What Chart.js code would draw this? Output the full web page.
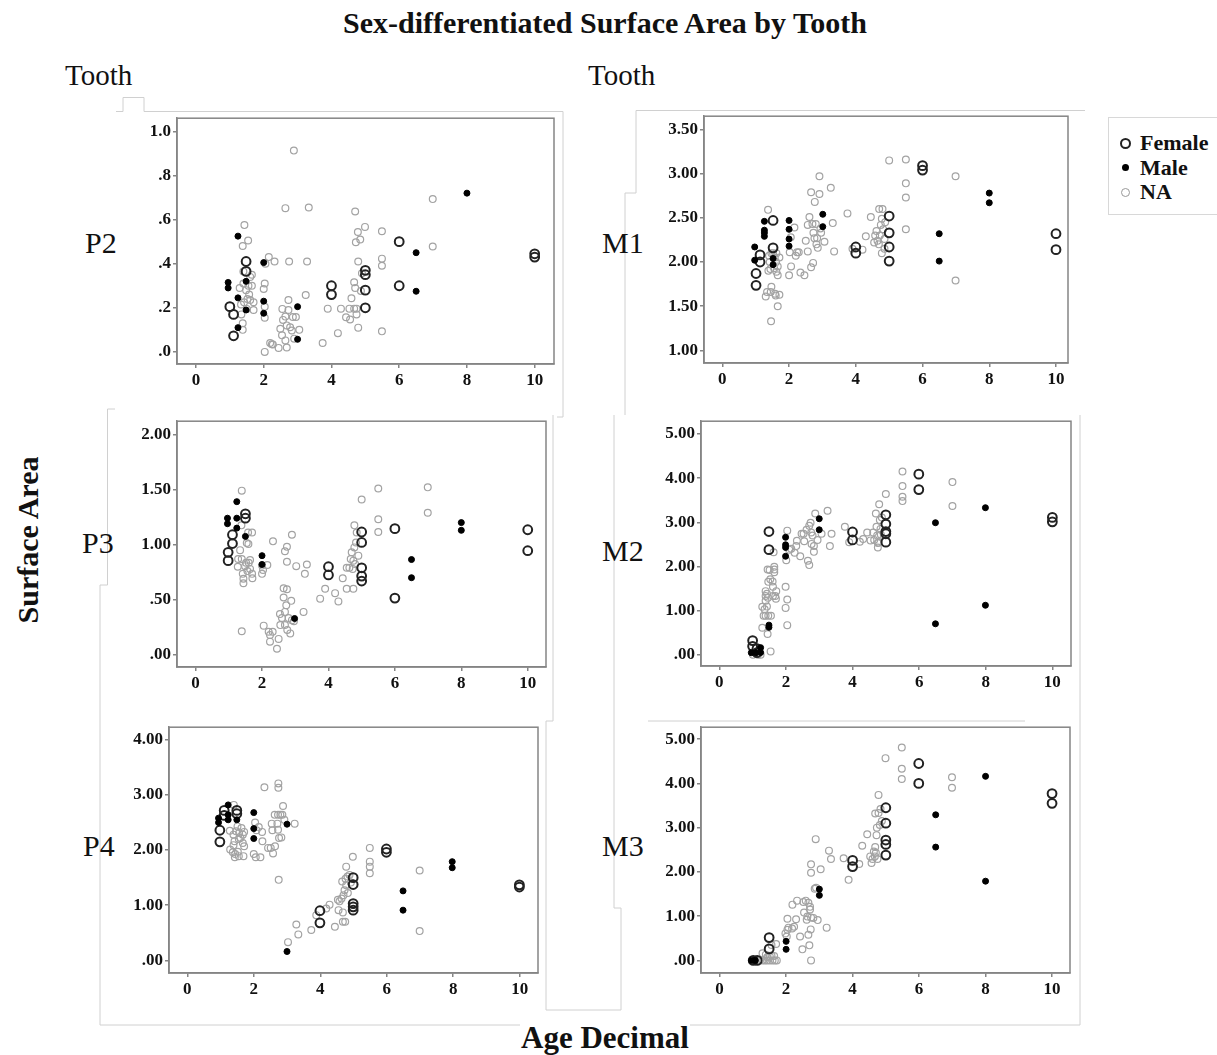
<!DOCTYPE html>
<html>
<head>
<meta charset="utf-8">
<title>Sex-differentiated Surface Area by Tooth</title>
<script src="https://cdn.jsdelivr.net/npm/chart.js@4.4.1/dist/chart.umd.min.js"></script>
<style>
    body { margin: 0; background: #fff; width: 1217px; height: 1055px; position: relative; overflow: hidden;
           font-family: "Liberation Serif", "Times New Roman", serif; color: #111; }
    .t { position: absolute; white-space: nowrap; line-height: 1; }
    canvas { position: absolute; }
    #lines { position: absolute; left: 0; top: 0; }
    .legend { position: absolute; left: 1108px; top: 117px; width: 120px; height: 96px; border: 1px solid #d8d8d8; border-right: none; }
    .legend div { position: absolute; left: 31px; font-weight: bold; font-size: 22px; line-height: 1; }
    .legend span { position: absolute; border-radius: 50%; }
</style>
</head>
<body>

<svg id="lines" width="1217" height="1055">
    <g fill="none" stroke="#d0d0d0" stroke-width="1">
        <polyline points="116,111.5 123,111.5 123,97.5 144,97.5 144,111.5 563,111.5 563,417 557,417" />
        <polyline points="636,193 636,110.5 1085,110.5" />
        <polyline points="636,193 625,193 625,415" />
        <polyline points="614,415 614,908 621,908 621,1010 546,1010 546,721 553,721 553,415" />
        <polyline points="115,409 107.5,409 107.5,585 100,585 100,1025 520,1025" />
        <polyline points="648,721 1025,721" />
        <polyline points="1080,415 1080,1025 690,1025" />
    </g>
</svg>

<div class="t" style="left:0;width:1210px;text-align:center;top:8px;font-size:30px;font-weight:bold;">Sex-differentiated Surface Area by Tooth</div>
<div class="t" style="left:65px;top:61px;font-size:29px;">Tooth</div>
<div class="t" style="left:588px;top:61px;font-size:29px;">Tooth</div>

<div class="t" style="left:85px;top:228px;font-size:30px;">P2</div>
<div class="t" style="left:82px;top:528px;font-size:30px;">P3</div>
<div class="t" style="left:83px;top:831px;font-size:30px;">P4</div>
<div class="t" style="left:602px;top:228px;font-size:30px;">M1</div>
<div class="t" style="left:602px;top:536px;font-size:30px;">M2</div>
<div class="t" style="left:602px;top:831px;font-size:30px;">M3</div>

<div class="t" style="left:28px;top:540px;font-size:30px;font-weight:bold;transform:translate(-50%,-50%) rotate(-90deg);">Surface Area</div>
<div class="t" style="left:521px;top:1022px;font-size:31px;font-weight:bold;">Age Decimal</div>

<div class="legend">
    <span style="left:11px;top:20px;width:7px;height:7px;border:2px solid #222;"></span>
    <div style="top:14px;">Female</div>
    <span style="left:13px;top:46px;width:7px;height:7px;background:#000;"></span>
    <div style="top:39px;">Male</div>
    <span style="left:12px;top:70px;width:7px;height:7px;border:1px solid #999;"></span>
    <div style="top:63px;">NA</div>
</div>

<canvas id="p2"></canvas>
<canvas id="m1"></canvas>
<canvas id="p3"></canvas>
<canvas id="m2"></canvas>
<canvas id="p4"></canvas>
<canvas id="m3"></canvas>

<script>
// shared x axis (age, years)
const xTicks = [0, 2, 4, 6, 8, 10];
const xLabels = ['0', '2', '4', '6', '8', '10'];

// P2
const p2YTicks = [0, 0.2, 0.4, 0.6, 0.8, 1.0];
const p2YLabels = ['.0', '.2', '.4', '.6', '.8', '1.0'];
const p2Female = [[1.0,0.205],[1.11,0.17],[1.11,0.073],[1.48,0.41],[1.48,0.365],[4.0,0.30],[4.0,0.26],[5.0,0.37],[5.0,0.35],[5.0,0.28],[5.0,0.20],[6.0,0.50],[6.0,0.30],[10,0.445],[10,0.43]];
const p2Male = [[0.95,0.315],[0.95,0.29],[1.24,0.525],[1.24,0.245],[1.24,0.11],[1.48,0.32],[1.48,0.19],[2.0,0.405],[2.0,0.23],[2.0,0.175],[3.0,0.205],[3.0,0.057],[6.5,0.45],[6.5,0.275],[8.0,0.72]];
const p2NA = [[1.43,0.575],[1.38,0.48],[1.54,0.505],[1.4,0.365],[1.29,0.29],[1.33,0.215],[1.34,0.17],[1.38,0.13],[1.38,0.10],[1.4,0.31],[1.48,0.28],[1.55,0.30],[1.6,0.34],[1.65,0.35],[1.57,0.26],[1.6,0.235],[1.7,0.225],[1.7,0.19],[1.42,0.225],[1.5,0.195],[1.65,0.30],[1.52,0.24],
    [2.03,0.31],[2.0,0.285],[2.03,0.205],[2.03,0.155],[2.03,0.0],[2.05,0.40],[2.15,0.43],[2.32,0.41],[2.19,0.04],[2.24,0.035],[2.27,0.033],[2.44,0.018],
    [2.49,0.105],[2.54,0.075],[2.55,0.195],[2.57,0.145],[2.64,0.16],[2.64,0.052],[2.68,0.02],[2.68,0.12],[2.73,0.235],[2.73,0.19],[2.78,0.112],[2.83,0.097],[2.86,0.158],[2.9,0.06],[2.95,0.158],[3.05,0.10],[2.75,0.41],[2.64,0.652],[2.89,0.913],[3.33,0.655],[3.28,0.41],[3.24,0.258],
    [3.74,0.04],[3.89,0.196],[4.19,0.085],[4.28,0.196],[4.43,0.157],[4.55,0.147],[4.53,0.196],[4.59,0.243],[4.67,0.196],[4.67,0.316],[4.7,0.29],[4.7,0.637],[4.72,0.497],[4.74,0.17],[4.74,0.196],[4.78,0.544],[4.79,0.41],[4.79,0.11],[4.85,0.51],[4.87,0.276],[4.9,0.357],[4.99,0.567],
    [5.49,0.547],[5.49,0.423],[5.49,0.391],[5.49,0.093],[6.99,0.693],[6.99,0.478]];

// M1
const m1YTicks = [1.0, 1.5, 2.0, 2.5, 3.0, 3.5];
const m1YLabels = ['1.00', '1.50', '2.00', '2.50', '3.00', '3.50'];
const m1Female = [[1.01,1.736],[1.01,1.87],[1.13,2.08],[1.13,2.0],[1.52,2.47],[1.52,2.16],[4.0,2.17],[4.0,2.10],[5.0,2.52],[5.0,2.33],[5.0,2.17],[5.0,2.01],[6.0,3.09],[6.0,3.04],[10,2.32],[10,2.14]];
const m1Male = [[0.97,2.17],[0.97,2.02],[1.26,2.46],[1.26,2.36],[1.26,2.33],[1.26,2.29],[1.52,2.04],[1.52,1.97],[2.0,2.47],[2.0,2.37],[2.0,2.26],[2.0,2.18],[3.01,2.54],[3.01,2.40],[6.5,2.32],[6.5,2.01],[8.0,2.78],[8.0,2.67]];
const m1NA = [[1.37,2.59],[1.34,1.66],[1.3,1.61],[1.47,1.72],[1.45,1.66],[1.58,1.64],[1.71,1.63],[1.66,1.50],[1.46,1.33],[1.6,1.62],
    [1.4,2.07],[1.42,2.0],[1.44,1.92],[1.47,2.1],[1.52,2.1],[1.57,2.05],[1.62,2.1],[1.66,1.95],[1.71,2.05],[1.62,1.89],[1.66,1.85],[1.38,1.9],[1.55,1.93],[1.61,2.0],
    [2.02,2.11],[2.05,2.28],[2.16,2.39],[2.06,1.95],[2.0,1.85],[2.2,2.07],[2.24,2.11],[2.29,2.11],[2.34,1.88],[2.46,1.85],[2.5,2.24],[2.56,2.42],[2.61,2.51],[2.56,2.12],[2.66,2.79],[2.66,1.94],[2.72,1.99],[2.7,2.43],[2.73,2.33],[2.76,2.27],[2.77,2.68],[2.8,2.43],[2.82,2.20],[2.86,2.16],[2.84,2.27],[2.91,2.97],[2.91,2.77],[2.94,2.38],[2.96,2.33],[3.06,2.23],[3.25,2.84],[3.31,2.44],[3.35,2.12],
    [3.75,2.55],[3.9,2.15],[4.2,2.14],[4.3,2.29],[4.45,2.51],[4.55,2.22],[4.58,2.30],[4.62,2.35],[4.65,2.24],[4.7,2.60],[4.69,2.20],[4.72,2.30],[4.75,2.42],[4.78,2.10],[4.8,2.60],[4.78,2.49],[4.82,2.37],[4.86,2.26],[4.86,2.15],[4.88,2.45],
    [5.0,3.15],[5.5,3.16],[5.5,2.89],[5.5,2.73],[5.5,2.37],[6.99,2.97],[6.99,1.79]];

// P3
const p3YTicks = [0, 0.5, 1.0, 1.5, 2.0];
const p3YLabels = ['.00', '.50', '1.00', '1.50', '2.00'];
const p3Female = [[0.98,0.93],[0.98,0.855],[1.11,1.09],[1.11,1.01],[1.5,1.28],[1.5,1.24],[4.0,0.80],[4.0,0.725],[5.0,1.115],[5.0,1.02],[5.0,0.79],[5.0,0.715],[5.0,0.67],[6.0,1.145],[6.0,0.515],[10,1.135],[10,0.945]];
const p3Male = [[0.96,1.24],[0.96,1.19],[1.24,1.39],[1.24,1.24],[1.24,1.15],[1.5,1.075],[2.0,0.90],[2.0,0.82],[2.98,0.33],[6.5,0.865],[6.5,0.70],[8.0,1.20],[8.0,1.13]];
const p3NA = [[1.39,1.49],[1.39,0.215],[1.38,1.175],[1.34,0.95],[1.28,0.87],[1.27,0.80],[1.39,0.87],[1.42,0.735],[1.44,0.69],[1.44,0.65],[1.49,0.805],[1.52,0.835],[1.54,1.015],[1.59,1.005],[1.56,0.76],[1.6,0.835],[1.64,0.86],[1.64,0.78],[1.58,1.11],[1.7,1.11],[1.7,0.735],[1.71,0.695],
    [2.0,0.81],[2.0,0.735],[2.03,0.77],[2.16,0.815],[2.33,1.03],[2.05,0.265],[2.2,0.21],[2.24,0.18],[2.24,0.12],[2.32,0.21],[2.45,0.055],[2.5,0.145],[2.54,0.37],[2.55,0.27],[2.6,0.335],[2.65,0.605],[2.65,0.52],[2.69,0.39],[2.69,0.27],[2.73,0.45],[2.75,0.595],[2.76,0.225],[2.69,0.94],[2.75,0.98],[2.75,0.845],[2.8,0.335],[2.85,0.195],[2.88,0.49],[2.9,1.09],[2.9,0.315],[2.96,0.305],[3.03,0.805],[3.25,0.39],[3.29,0.735],[3.35,0.82],
    [3.75,0.51],[3.9,0.60],[4.2,0.56],[4.3,0.485],[4.43,0.695],[4.55,0.60],[4.55,0.79],[4.63,0.79],[4.67,0.87],[4.7,0.93],[4.73,0.78],[4.75,0.60],[4.75,0.855],[4.78,0.975],[4.78,1.175],[4.8,0.825],[4.83,1.02],[4.85,1.11],[4.9,0.90],[5.0,1.41],
    [5.5,1.51],[5.5,1.23],[5.5,1.115],[6.99,1.52],[6.99,1.29]];

// M2
const m2YTicks = [0, 1, 2, 3, 4, 5];
const m2YLabels = ['.00', '1.00', '2.00', '3.00', '4.00', '5.00'];
const m2Female = [[1.0,0.32],[1.0,0.19],[1.13,0.135],[1.13,0.045],[1.49,2.79],[1.49,2.38],[4.0,2.78],[4.0,2.60],[5.0,3.17],[5.0,2.96],[5.0,2.79],[5.0,2.74],[5.0,2.55],[5.99,4.09],[5.99,3.74],[10,3.11],[10,3.01]];
const m2Male = [[0.96,0.045],[1.1,0.045],[1.24,0.16],[1.24,0.05],[1.49,0.67],[1.49,0.62],[1.99,2.66],[1.99,2.49],[1.99,2.43],[1.99,2.23],[3.0,3.08],[3.0,2.83],[6.49,2.99],[6.49,0.70],[7.99,3.33],[7.99,1.12]];
const m2NA = [[1.01,0.0],[1.09,0.045],[1.16,0.0],[1.24,0.0],
    [1.54,0.075],[1.45,0.47],[1.29,0.61],[1.29,1.085],[1.33,0.88],[1.39,0.88],[1.47,0.88],[1.55,0.88],[1.36,1.03],[1.43,1.09],[1.39,1.22],[1.39,1.33],[1.39,1.44],[1.43,1.38],[1.46,1.29],[1.47,1.65],[1.45,1.93],[1.51,1.92],[1.53,1.71],[1.6,1.66],[1.61,1.54],[1.63,2.32],[1.65,1.87],[1.65,1.99],[1.65,1.93],[1.68,1.33],[1.7,1.27],[1.71,1.44],[1.61,1.33],
    [1.99,1.54],[1.99,1.06],[2.04,1.25],[2.04,0.67],[2.01,2.14],[2.04,2.81],[2.1,2.38],[2.16,2.4],[2.26,2.31],[2.31,2.46],[2.33,2.58],[2.43,2.23],[2.47,2.74],[2.53,2.74],[2.55,2.57],[2.62,2.83],[2.66,2.13],[2.7,2.03],[2.7,2.92],[2.74,2.99],[2.76,2.77],[2.77,2.51],[2.8,2.7],[2.84,2.46],[2.84,2.33],[2.88,3.2],[2.95,2.6],[3.07,2.74],[3.25,3.26],[3.32,2.46],[3.37,2.74],
    [3.77,2.9],[3.9,2.55],[4.22,2.56],[4.32,2.62],[4.44,2.77],[4.54,2.59],[4.62,2.77],[4.65,2.6],[4.7,3.2],[4.72,2.9],[4.74,2.7],[4.76,2.43],[4.78,2.54],[4.8,3.41],[4.82,3.05],[4.76,2.53],[4.84,2.85],[4.88,3.11],[4.85,2.72],
    [5.0,3.64],[5.5,4.15],[5.5,3.82],[5.5,3.58],[5.5,3.48],[7.0,3.91],[7.0,3.37]];

// P4
const p4YTicks = [0, 1, 2, 3, 4];
const p4YLabels = ['.00', '1.00', '2.00', '3.00', '4.00'];
const p4Female = [[0.98,2.36],[0.98,2.15],[1.11,2.72],[1.11,2.63],[1.49,2.72],[1.49,2.66],[3.99,0.90],[3.99,0.68],[4.99,1.50],[4.99,1.375],[4.99,1.03],[4.99,0.97],[4.99,0.91],[5.99,2.02],[5.99,1.96],[9.99,1.37],[9.99,1.33]];
const p4Male = [[0.94,2.58],[0.94,2.50],[1.23,2.82],[1.23,2.64],[1.23,2.55],[1.49,2.55],[2.0,2.68],[2.0,2.39],[2.0,2.21],[3.0,2.47],[3.0,0.16],[6.49,1.26],[6.49,0.91],[7.97,1.79],[7.97,1.68]];
const p4NA = [[1.4,2.82],[1.28,2.35],[1.39,2.28],[1.42,2.16],[1.39,2.09],[1.29,2.01],[1.37,1.96],[1.44,1.93],[1.43,1.87],[1.52,1.97],[1.55,1.89],[1.69,1.89],[1.56,2.31],[1.63,2.4],[1.67,2.28],[1.6,2.22],[1.67,2.13],[1.71,2.07],[1.71,2.33],[1.51,2.43],[1.47,2.34],[1.55,2.2],
    [2.0,1.93],[2.04,2.5],[2.06,1.87],[2.08,2.36],[2.15,2.42],[2.2,1.87],[2.25,2.33],[2.26,2.16],[2.32,3.14],[2.43,2.04],[2.51,2.04],[2.54,2.48],[2.56,2.36],[2.58,1.94],[2.63,2.64],[2.64,2.07],[2.71,2.48],[2.73,2.64],[2.73,2.37],[2.74,3.21],[2.74,3.13],[2.75,1.46],[2.76,2.22],[2.8,2.64],[2.83,2.23],[2.86,2.64],[2.88,2.8],[2.92,2.55],[3.23,2.48],
    [3.03,0.33],[3.28,0.65],[3.34,0.47],[3.73,0.55],[3.88,0.82],[4.18,0.94],[4.28,1.01],[4.44,0.61],[4.53,1.1],[4.55,0.91],[4.58,1.07],[4.64,1.12],[4.68,0.87],[4.66,1.43],[4.68,0.70],[4.7,1.18],[4.73,1.27],[4.75,0.70],[4.76,1.48],[4.78,1.70],[4.78,1.36],[4.82,1.52],[4.83,1.22],[4.88,1.55],[4.92,1.41],[4.98,1.88],
    [5.49,2.04],[5.49,1.79],[5.49,1.70],[5.49,1.58],[6.99,1.63],[6.99,0.53]];

// M3
const m3YTicks = [0, 1, 2, 3, 4, 5];
const m3YLabels = ['.00', '1.00', '2.00', '3.00', '4.00', '5.00'];
const m3Female = [[1.01,0.0],[1.13,0.0],[1.49,0.515],[1.49,0.26],[4.0,2.26],[4.0,2.12],[5.0,3.45],[5.0,3.10],[5.0,2.72],[5.0,2.62],[5.0,2.38],[5.99,4.45],[5.99,4.0],[10,3.77],[10,3.55]];
const m3Male = [[0.96,0.0],[1.07,0.0],[2.0,0.43],[2.0,0.25],[3.0,1.61],[3.0,1.47],[6.5,3.29],[6.5,2.56],[8.0,4.16],[8.0,1.79]];
const m3NA = [[1.06,0.0],[1.21,0.0],[1.29,0.0],[1.36,0.0],[1.43,0.0],[1.51,0.0],[1.59,0.0],[1.66,0.0],[1.72,0.0],[1.29,0.16],[1.39,0.13],[1.51,0.09],[1.56,0.11],[1.64,0.10],[1.56,0.35],[1.7,0.37],[1.43,0.07],
    [1.98,0.61],[2.02,0.54],[2.04,0.69],[2.07,0.74],[2.04,0.94],[2.18,0.72],[2.24,0.76],[2.19,1.26],[2.3,0.93],[2.33,1.35],[2.42,0.54],[2.49,0.25],[2.52,1.32],[2.54,1.08],[2.59,1.35],[2.62,0.92],[2.64,0.99],[2.67,0.58],[2.67,1.30],[2.7,0.34],[2.72,1.21],[2.72,1.15],[2.74,0.70],[2.75,0.97],[2.75,0.0],[2.75,2.17],[2.75,1.98],[2.82,0.96],[2.86,1.62],[2.89,2.74],[2.9,1.64],[2.95,0.91],[3.04,2.06],[3.22,0.74],[3.29,2.48],[3.35,2.29],
    [3.73,2.31],[3.88,1.82],[4.2,2.18],[4.29,2.59],[4.44,2.85],[4.53,2.35],[4.57,2.20],[4.6,2.29],[4.64,2.46],[4.67,2.35],[4.68,2.56],[4.68,3.32],[4.7,2.43],[4.72,2.83],[4.73,3.0],[4.75,2.29],[4.78,3.33],[4.78,3.74],[4.82,3.06],[4.84,3.42],[4.88,3.15],
    [4.99,4.57],[5.48,4.81],[5.48,4.33],[5.48,4.10],[6.99,4.14],[6.99,3.9]];

const tickFont = { family: "'Liberation Serif', 'Times New Roman', serif", size: 17, weight: 'bold' };
const frameColor = '#858585';

// draws the closed box around the plot area
const frameBox = {
    id: 'frameBox',
    afterDraw(chart) {
        const a = chart.chartArea, ctx = chart.ctx;
        ctx.save();
        ctx.strokeStyle = frameColor;
        ctx.lineWidth = 1.5;
        ctx.strokeRect(a.left, a.top, a.right - a.left, a.bottom - a.top);
        ctx.restore();
    }
};

const toPts = arr => arr.map(p => ({ x: p[0], y: p[1] }));

function makePanel(id, box, xr, yr, yTicks, yLabels, female, male, na) {
    const cv = document.getElementById(id);
    cv.width = box.r - box.l + 70;
    cv.height = box.b - box.t + 50;
    cv.style.left = (box.l - 60) + 'px';
    cv.style.top = (box.t - 10) + 'px';

    new Chart(cv, {
        type: 'scatter',
        data: {
            datasets: [
                { label: 'Male', data: toPts(male), pointRadius: 3, pointBackgroundColor: '#000', pointBorderColor: '#000', pointBorderWidth: 1, order: 1 },
                { label: 'Female', data: toPts(female), pointRadius: 4.4, pointBackgroundColor: 'rgba(0,0,0,0)', pointBorderColor: '#222', pointBorderWidth: 2, order: 2 },
                { label: 'NA', data: toPts(na), pointRadius: 3.4, pointBackgroundColor: 'rgba(0,0,0,0)', pointBorderColor: '#a3a3a3', pointBorderWidth: 1.2, order: 3 }
            ]
        },
        options: {
            responsive: false,
            animation: false,
            events: [],
            layout: { padding: { top: 10, right: 10, left: 0, bottom: 0 } },
            plugins: { legend: { display: false }, tooltip: { enabled: false } },
            scales: {
                x: {
                    type: 'linear', min: xr[0], max: xr[1],
                    afterBuildTicks: s => { s.ticks = xTicks.map(v => ({ value: v })); },
                    afterFit: s => { s.height = 40; },
                    grid: { drawOnChartArea: false, drawTicks: true, tickLength: 4, color: frameColor, lineWidth: 1.5 },
                    border: { display: true, color: frameColor, width: 1.5 },
                    ticks: { font: tickFont, color: '#111', padding: 2, autoSkip: false, maxRotation: 0, callback: (v, i) => xLabels[i] }
                },
                y: {
                    type: 'linear', min: yr[0], max: yr[1],
                    afterBuildTicks: s => { s.ticks = yTicks.map(v => ({ value: v })); },
                    afterFit: s => { s.width = 60; },
                    grid: { drawOnChartArea: false, drawTicks: true, tickLength: 4, color: frameColor, lineWidth: 1.5 },
                    border: { display: true, color: frameColor, width: 1.5 },
                    ticks: { font: tickFont, color: '#111', padding: 2, autoSkip: false, callback: (v, i) => yLabels[i] }
                }
            }
        },
        plugins: [frameBox]
    });
}

makePanel('p2', { l: 177, t: 116, r: 554, b: 364 }, [-0.56, 10.57], [-0.055, 1.06], p2YTicks, p2YLabels, p2Female, p2Male, p2NA);
makePanel('m1', { l: 704, t: 114, r: 1068, b: 363 }, [-0.55, 10.36], [0.857, 3.65], m1YTicks, m1YLabels, m1Female, m1Male, m1NA);
makePanel('p3', { l: 177, t: 419, r: 546, b: 667 }, [-0.56, 10.55], [-0.11, 2.12], p3YTicks, p3YLabels, p3Female, p3Male, p3NA);
makePanel('m2', { l: 701, t: 419, r: 1071, b: 666 }, [-0.55, 10.56], [-0.256, 5.29], m2YTicks, m2YLabels, m2Female, m2Male, m2NA);
makePanel('p4', { l: 169, t: 725, r: 538, b: 973 }, [-0.55, 10.55], [-0.23, 4.23], p4YTicks, p4YLabels, p4Female, p4Male, p4NA);
makePanel('m3', { l: 701, t: 725, r: 1070, b: 973 }, [-0.56, 10.54], [-0.285, 5.27], m3YTicks, m3YLabels, m3Female, m3Male, m3NA);
</script>
</body>
</html>
